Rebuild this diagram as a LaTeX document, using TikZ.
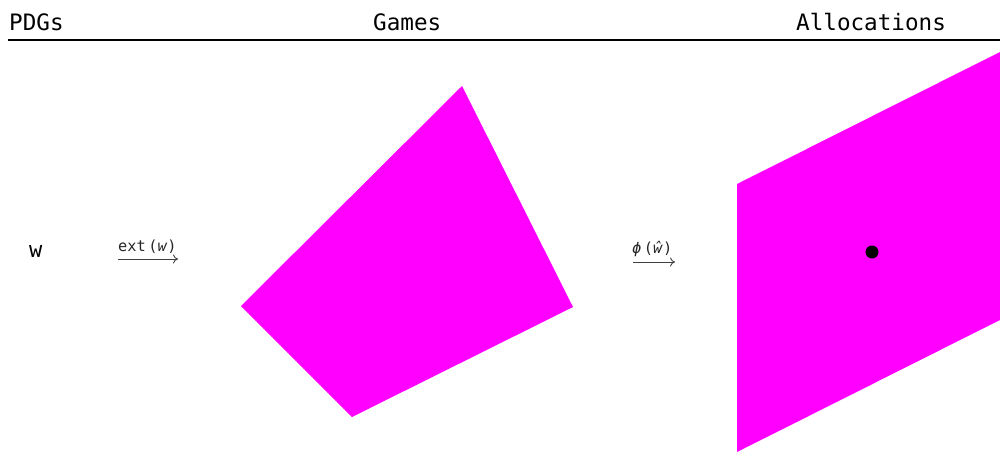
\documentclass[tikz,border=0pt]{standalone}
\usepackage{fontspec}
\setmainfont{DejaVu Sans Mono}
\usetikzlibrary{arrows.meta}
\definecolor{magentargb}{RGB}{255,0,255}
\begin{document}
\begin{tikzpicture}[x=1pt,y=-1pt,
  title/.style={font=\fontsize{22.6}{26}\selectfont, inner sep=0pt, anchor=base west},
  region/.style={fill=magentargb, draw=none},
  lbl/.style={font=\fontsize{15.3}{17}\selectfont, inner sep=0pt, anchor=base west, text=black!85},
  maparrow/.style={draw=black!75, line width=0.9pt, -{To[length=5pt,width=9pt]}}]
\useasboundingbox (0,0) rectangle (1000,452);
\node[title] (pdgs) at (9,31) {PDGs};
\node[title] (games) at (373,31) {Games};
\node[title] (alloc) at (796,31) {Allocations};
\coordinate (rl) at (8,40);
\coordinate (rr) at (1000,40);
\draw[line width=2.5pt] (rl) -- (rr);
\node[font=\fontsize{22}{24}\selectfont, inner sep=0pt, anchor=base west] (w) at (29,257) {w};
\coordinate (a1s) at (118,259);
\coordinate (a1e) at (178,259);
\draw[maparrow] (a1s) -- (a1e);
\node[lbl] (l1) at (118,251) {ext\,(\textit{w})};
\coordinate (a2s) at (633,262);
\coordinate (a2e) at (675,262);
\draw[maparrow] (a2s) -- (a2e);
\node[lbl] (l2) at (632,253) {\textit{ϕ}\,(\textit{ŵ})};
\path[region] (462,86) -- (573,307) -- (352,417) -- (241,306) -- cycle;
\path[region] (737,184) -- (1000,52) -- (1000,320) -- (737,452) -- cycle;
\node[circle, fill=black, inner sep=0pt, minimum size=13pt] (dot) at (872,252) {};
\end{tikzpicture}
\end{document}
